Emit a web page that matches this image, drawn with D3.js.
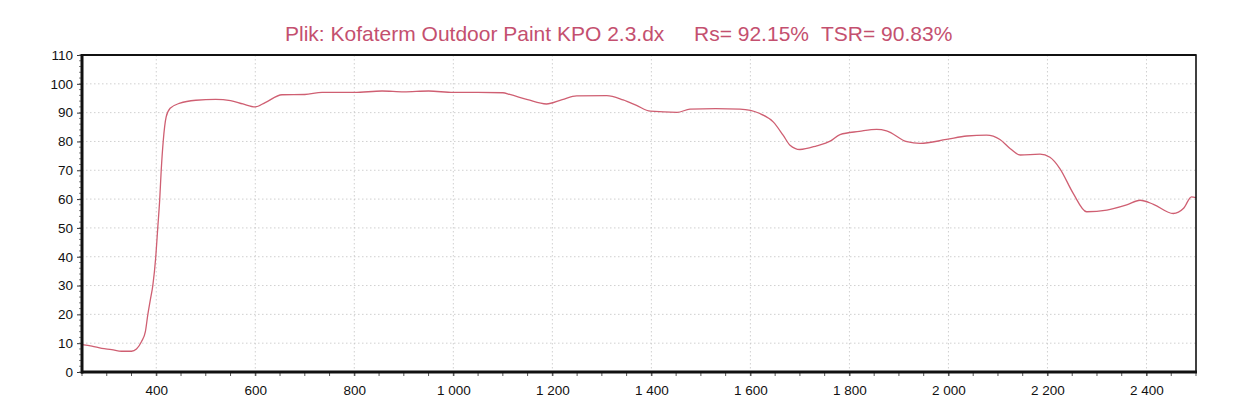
<!DOCTYPE html>
<html><head><meta charset="utf-8">
<script src="https://cdn.jsdelivr.net/npm/d3@7/dist/d3.min.js"></script>
<style>
html,body{margin:0;padding:0;background:#fff;}
svg{display:block;font-family:Arial,"Liberation Sans",sans-serif;}
</style></head>
<body>
<svg id="chart" width="1234" height="414"></svg>
<script>
// Wavelength (nm)
const wavelengths = [250,270,290,310,330,350,360,370,378,383,388,393,399,403,407,410,414,420,428,448,480,520,550,575,600,620,654,700,735,800,856,900,950,1000,1050,1100,1114,1150,1188,1220,1249,1310,1343,1370,1398,1452,1478,1530,1579,1619,1646,1666,1680,1700,1734,1761,1781,1820,1855,1875,1916,1943,1996,2037,2077,2104,2125,2145,2185,2205,2225,2252,2279,2320,2333,2360,2387,2414,2454,2475,2491,2500];
// Reflectance (%)
const reflectance = [9.5,9.0,8.2,7.8,7.2,7.2,8.0,10.5,14,20,25,30,40,50,60,70,80,88.5,91.5,93.3,94.3,94.6,94.2,93.0,92.0,93.5,96.2,96.3,97.0,97.0,97.5,97.2,97.5,97.0,97.0,96.9,96.3,94.5,93.0,94.5,95.8,95.9,94.4,92.5,90.5,90.1,91.2,91.4,91.2,89.7,86.8,82.2,78.7,77.2,78.5,80.1,82.4,83.5,84.2,83.7,79.9,79.3,80.7,81.9,82.2,80.7,77.5,75.3,75.6,74.5,70.6,62.0,55.6,56.2,56.7,58.0,59.6,58.2,55.0,56.8,60.8,60.5];
const xTicks = [400,600,800,1000,1200,1400,1600,1800,2000,2200,2400];
const yTicks = [0,10,20,30,40,50,60,70,80,90,100,110];
const titleParts = ["Plik: Kofaterm Outdoor Paint KPO 2.3.dx", "Rs= 92.15%", "TSR= 90.83%"];

const svg = d3.select("#chart");
const m = {left:82, top:55, right:1196, bottom:372};
const x = d3.scaleLinear().domain([250,2500]).range([m.left, m.right]);
const y = d3.scaleLinear().domain([0,110]).range([m.bottom, m.top]);

// title
const titleX = [285, 694, 821];
svg.selectAll("text.title").data(titleParts).join("text")
  .attr("class","title")
  .attr("x",(d,i)=>titleX[i]).attr("y",41)
  .attr("font-size",21).attr("fill","#c4506f")
  .text(d=>d);

// grid
const grid = svg.append("g");
grid.selectAll("line.gx").data(xTicks).join("line")
  .attr("x1",d=>x(d)).attr("x2",d=>x(d)).attr("y1",m.top).attr("y2",m.bottom)
  .attr("stroke","#c4c4c4").attr("stroke-width",0.8).attr("stroke-dasharray","1.5,2.5");
grid.selectAll("line.gy").data(yTicks.slice(1,-1)).join("line")
  .attr("y1",d=>y(d)).attr("y2",d=>y(d)).attr("x1",m.left).attr("x2",m.right)
  .attr("stroke","#c4c4c4").attr("stroke-width",0.8).attr("stroke-dasharray","1.5,2.5");

// line
const line = d3.line().x(d=>x(d[0])).y(d=>y(d[1])).curve(d3.curveMonotoneX);
svg.append("path")
  .datum(wavelengths.map((w,i)=>[w,reflectance[i]]))
  .attr("d",line).attr("fill","none")
  .attr("stroke","#cf5f72").attr("stroke-width",1.3);

// axes
const xAxis = d3.axisBottom(x).tickValues(xTicks).tickSize(4).tickPadding(9)
  .tickFormat(d=>d3.format(",")(d).replace(","," "));
const gx = svg.append("g").attr("transform",`translate(0,${m.bottom})`).call(xAxis);
gx.select(".domain").remove();
gx.selectAll("text").attr("font-size",13.5).attr("font-family","Arial,'Liberation Sans',sans-serif").attr("fill","#111");
gx.selectAll("line").attr("stroke","#333");
const xMinor = d3.range(250,2501,50);
svg.append("g").selectAll("line").data(xMinor).join("line")
  .attr("x1",d=>x(d)).attr("x2",d=>x(d)).attr("y1",m.bottom).attr("y2",m.bottom+4)
  .attr("stroke","#555").attr("stroke-width",1);

const yAxis = d3.axisLeft(y).tickValues(yTicks).tickSize(5).tickPadding(4);
const gy = svg.append("g").attr("transform",`translate(${m.left},0)`).call(yAxis);
gy.select(".domain").remove();
gy.selectAll("text").attr("font-size",13.5).attr("font-family","Arial,'Liberation Sans',sans-serif").attr("fill","#111");
gy.selectAll("line").attr("stroke","#333");
const yMinor = d3.range(0,111,2);
svg.append("g").selectAll("line").data(yMinor).join("line")
  .attr("y1",d=>y(d)).attr("y2",d=>y(d)).attr("x1",m.left-3).attr("x2",m.left)
  .attr("stroke","#666").attr("stroke-width",0.8);

// frame
svg.append("rect").attr("x",m.left).attr("y",m.top)
  .attr("width",m.right-m.left).attr("height",m.bottom-m.top)
  .attr("fill","none").attr("stroke","#111").attr("stroke-width",1.6);
svg.append("line").attr("x1",m.left).attr("x2",m.left).attr("y1",m.top-1).attr("y2",m.bottom+1.5)
  .attr("stroke","#111").attr("stroke-width",3);
svg.append("line").attr("x1",m.left-1).attr("x2",m.right+1).attr("y1",m.bottom).attr("y2",m.bottom)
  .attr("stroke","#111").attr("stroke-width",3);
svg.append("line").attr("x1",m.left).attr("x2",m.right).attr("y1",m.top).attr("y2",m.top)
  .attr("stroke","#111").attr("stroke-width",2.2);
</script>
</body></html>
